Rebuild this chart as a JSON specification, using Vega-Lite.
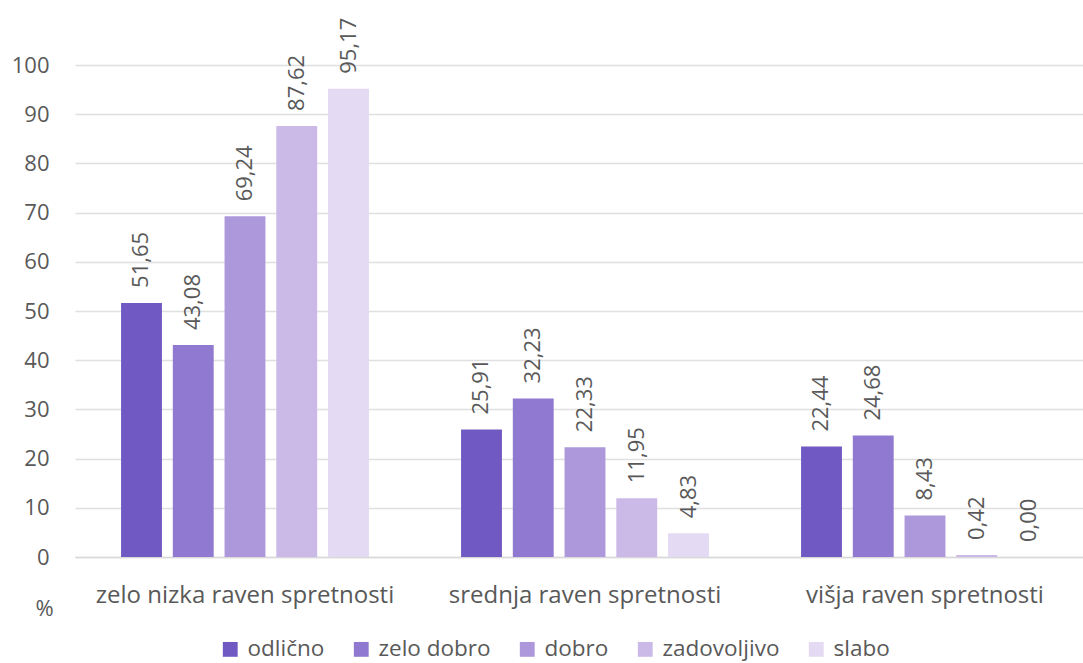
{
  "$schema": "https://vega.github.io/schema/vega-lite/v6.json",
  "autosize": {"type": "none"},
  "width": 1020,
  "height": 492,
  "padding": {"left": 75, "top": 65, "right": 0, "bottom": 106},
  "background": "white",
  "config": {
    "font": "Open Sans",
    "view": {"stroke": null},
    "locale": {"number": {"decimal": ",", "thousands": ".", "grouping": [3], "currency": ["", " €"]}}
  },
  "data": {
    "values": [
      {"raven": "zelo nizka raven spretnosti", "ocena": "odlično", "v": 51.65},
      {"raven": "zelo nizka raven spretnosti", "ocena": "zelo dobro", "v": 43.08},
      {"raven": "zelo nizka raven spretnosti", "ocena": "dobro", "v": 69.24},
      {"raven": "zelo nizka raven spretnosti", "ocena": "zadovoljivo", "v": 87.62},
      {"raven": "zelo nizka raven spretnosti", "ocena": "slabo", "v": 95.17},
      {"raven": "srednja raven spretnosti", "ocena": "odlično", "v": 25.91},
      {"raven": "srednja raven spretnosti", "ocena": "zelo dobro", "v": 32.23},
      {"raven": "srednja raven spretnosti", "ocena": "dobro", "v": 22.33},
      {"raven": "srednja raven spretnosti", "ocena": "zadovoljivo", "v": 11.95},
      {"raven": "srednja raven spretnosti", "ocena": "slabo", "v": 4.83},
      {"raven": "višja raven spretnosti", "ocena": "odlično", "v": 22.44},
      {"raven": "višja raven spretnosti", "ocena": "zelo dobro", "v": 24.68},
      {"raven": "višja raven spretnosti", "ocena": "dobro", "v": 8.43},
      {"raven": "višja raven spretnosti", "ocena": "zadovoljivo", "v": 0.42},
      {"raven": "višja raven spretnosti", "ocena": "slabo", "v": 0.00}
    ]
  },
  "encoding": {
    "x": {
      "field": "raven", "type": "nominal", "sort": null,
      "scale": {"paddingInner": 0, "paddingOuter": 0},
      "axis": {
        "title": null, "labelAngle": 0, "labelFontSize": 24, "labelColor": "#595959",
        "labelPadding": 26, "labelLimit": 0, "ticks": false, "domainColor": "#d9d9d9", "domainWidth": 1.5,
        "labelExpr": "indexof(datum.label, 'srednja') === 0 ? '\u00a0\u00a0\u00a0\u00a0\u00a0' + datum.label : indexof(datum.label, 'vi') === 0 ? '\u00a0\u00a0\u00a0\u00a0\u00a0\u00a0\u00a0\u00a0' + datum.label : datum.label"
      }
    },
    "xOffset": {
      "field": "ocena", "type": "nominal",
      "sort": ["odlično", "zelo dobro", "dobro", "zadovoljivo", "slabo"],
      "scale": {"paddingInner": 0.21, "paddingOuter": 0.89}
    },
    "y": {
      "field": "v", "type": "quantitative",
      "scale": {"domain": [0, 100]},
      "axis": {
        "title": "%", "titleAngle": 0, "titleX": -31, "titleY": 543, "titleFontSize": 22,
        "titleFontWeight": "normal", "titleColor": "#595959", "titleAlign": "center", "titleBaseline": "middle",
        "values": [0,10,20,30,40,50,60,70,80,90,100], "labelOverlap": false,
        "labelFontSize": 22, "labelColor": "#595959", "labelPadding": 26,
        "domain": false, "ticks": false, "gridColor": "#e0e0e0", "gridWidth": 1.5
      }
    }
  },
  "layer": [
    {
      "mark": {"type": "bar"},
      "encoding": {
        "color": {
          "field": "ocena", "type": "nominal",
          "sort": ["odlično", "zelo dobro", "dobro", "zadovoljivo", "slabo"],
          "scale": {
            "domain": ["odlično", "zelo dobro", "dobro", "zadovoljivo", "slabo"],
            "range": ["#7059c2", "#9079d0", "#ad98db", "#cbb9e8", "#e4daf3"]
          },
          "legend": {
            "title": null, "orient": "none", "direction": "horizontal",
            "legendX": 144, "legendY": 573,
            "symbolType": "square", "symbolSize": 220, "symbolStrokeWidth": 0,
            "labelFontSize": 22.5, "labelColor": "#595959", "labelOffset": 6,
            "columnPadding": 25, "labelLimit": 0
          }
        }
      }
    },
    {
      "mark": {"type": "text", "angle": -90, "align": "left", "baseline": "middle", "dx": 15, "fontSize": 22, "color": "#595959"},
      "encoding": {
        "text": {"field": "v", "type": "quantitative", "format": ".2f"}
      }
    }
  ]
}
